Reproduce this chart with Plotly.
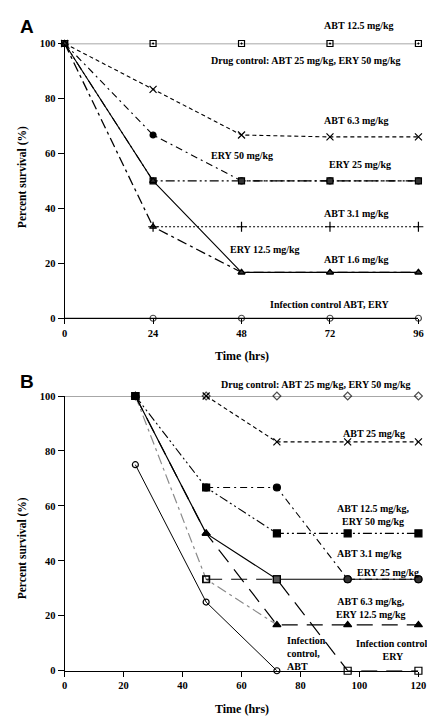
import plotly.graph_objects as go

W, H = 435, 716

# ---------------- Panel A data ----------------
a_time = [0, 24, 48, 72, 96]
a_drug_ctrl = [100, 100, 100, 100, 100]
a_abt_6_3 = [100, 83.3, 66.7, 66, 66]
a_ery_50 = [100, 66.7, 50, 50, 50]
a_ery_25 = [100, 50, 50, 50, 50]
a_abt_1_6 = [100, 50, 16.7, 16.7, 16.7]
a_ery_12_5 = [100, 33.3, 16.7, 16.7, 16.7]
a_abt_3_1_time = [24, 48, 72, 96]
a_abt_3_1 = [33.3, 33.3, 33.3, 33.3]
a_inf_ctrl = [0, 0, 0, 0, 0]
a_xticks = [0, 24, 48, 72, 96]

# ---------------- Panel B data ----------------
b_time_ctrl = [0, 24, 48, 72, 96, 120]
b_drug_ctrl = [100, 100, 100, 100, 100, 100]
b_abt_25_time = [48, 72, 96, 120]
b_abt_25 = [100, 83.3, 83.3, 83.3]
b_time = [24, 48, 72, 96, 120]
b_abt_12_5 = [100, 66.7, 50, 50, 50]
b_ery_50_time = [48, 72, 96, 120]
b_ery_50 = [66.7, 66.7, 33.3, 33.3]
b_abt_3_1 = [100, 50, 33.3, 33.3, 33.3]
b_abt_6_3 = [100, 50, 16.7, 16.7, 16.7]
b_ery_12_5_time = [24, 48, 72]
b_ery_12_5 = [100, 33.3, 16.7]
b_inf_ery_time = [48, 72, 96, 120]
b_inf_ery = [33.3, 33.3, 0, 0]
b_inf_abt_time = [24, 48, 72]
b_inf_abt = [75, 25, 0]
b_xticks = [0, 20, 40, 60, 80, 100, 120]

yticks = [0, 20, 40, 60, 80, 100]

SERIF = "Liberation Serif"
GRAY = "#8a8a8a"

fig = go.Figure()


def add(x, y, xa, ya, color="black", dash="solid", width=1.1, symbol="circle",
        msize=6, mcolor="black", mline="black"):
    fig.add_trace(go.Scatter(
        x=x, y=y, xaxis=xa, yaxis=ya, mode="lines+markers",
        line=dict(color=color, dash=dash, width=width),
        marker=dict(symbol=symbol, size=msize, color=mcolor,
                    line=dict(color=mline, width=1.2)),
        cliponaxis=False, showlegend=False, hoverinfo="skip"))


# Panel A traces
add(a_time, a_drug_ctrl, "x", "y", color=GRAY, width=1.5, symbol="square-open-dot", msize=6)
add(a_time, a_inf_ctrl, "x", "y", color=GRAY, width=1.5, symbol="circle-open",
    msize=[0, 6, 6, 6, 6])
add(a_time, a_abt_6_3, "x", "y", dash="4px,3px", symbol="x-thin-open", msize=7)
add(a_time, a_ery_50, "x", "y", dash="7px,4px,2px,4px", symbol="circle", msize=6)
add(a_time, a_ery_25, "x", "y", dash="9px,3px,2px,3px,2px,3px", symbol="square", msize=6,
    mcolor="#333")
add(a_time, a_ery_12_5, "x", "y", dash="10px,4px,3px,4px", width=1.3,
    symbol="triangle-up", msize=6, mcolor="#555")
add(a_time, a_abt_1_6, "x", "y", symbol="triangle-up", msize=6, mcolor="#333")
add(a_abt_3_1_time, a_abt_3_1, "x", "y", dash="2px,2px", symbol="cross-thin-open", msize=7)

# Panel B traces
add(b_time_ctrl, b_drug_ctrl, "x2", "y2", color=GRAY, width=1.5, symbol="diamond-open",
    msize=[0, 6, 6, 6, 6, 6])
add(b_ery_12_5_time, b_ery_12_5, "x2", "y2", color=GRAY, dash="10px,4px,3px,4px", width=1.2,
    symbol=["square", "square-open", "triangle-up"], msize=6, mline=GRAY)
add(b_inf_abt_time, b_inf_abt, "x2", "y2", width=1, symbol="circle-open", msize=6)
add(b_abt_25_time, b_abt_25, "x2", "y2", dash="4px,3px", symbol="x-thin-open", msize=7)
add(b_time, b_abt_12_5, "x2", "y2", dash="9px,3px,2px,3px,2px,3px", symbol="square", msize=7)
add(b_ery_50_time, b_ery_50, "x2", "y2", dash="7px,4px,2px,4px", symbol="circle", msize=7)
add(b_time, b_abt_6_3, "x2", "y2", dash="16px,9px", width=1.2, symbol="triangle-up", msize=7)
add(b_time, b_abt_3_1, "x2", "y2", width=1.2,
    symbol=["square", "triangle-up", "square", "circle", "circle"], msize=7,
    mcolor=["black", "black", "#555", "#333", "#333"])
add(b_inf_ery_time, b_inf_ery, "x2", "y2", dash="16px,9px", width=1.2,
    symbol="square-open", msize=7)


def px_x(p):
    return p / W


def px_y(p):
    return 1 - p / H


tickfont = dict(family=SERIF, size=10.5, color="black", weight="bold")
common_x = dict(showgrid=False, zeroline=False, showline=True, linecolor="black", linewidth=1.2,
                ticks="outside", ticklen=5, tickcolor="black", tickfont=tickfont,
                fixedrange=True)
common_y = dict(showgrid=False, zeroline=False, showline=True, linecolor="black", linewidth=1.2,
                ticks="outside", ticklen=6, tickcolor="black", tickfont=tickfont,
                range=[0, 100], tickvals=yticks, fixedrange=True)

xdom = [px_x(55), px_x(418)]
fig.update_layout(
    width=W, height=H, margin=dict(l=0, r=0, t=0, b=0),
    paper_bgcolor="white", plot_bgcolor="white",
    xaxis=dict(domain=xdom, range=[0, 96], tickvals=a_xticks, anchor="y", **common_x),
    yaxis=dict(domain=[px_y(310), px_y(31)], anchor="x", **common_y),
    xaxis2=dict(domain=xdom, range=[0, 120], tickvals=b_xticks, anchor="y2", **common_x),
    yaxis2=dict(domain=[px_y(668), px_y(389)], anchor="x2", **common_y),
)


def note(text, x, y, align="center", xanchor="center", size=10):
    fig.add_annotation(text=text, x=px_x(x), y=px_y(y), xref="paper", yref="paper",
                       showarrow=False, xanchor=xanchor, yanchor="middle", align=align,
                       font=dict(family=SERIF, size=size, color="black", weight="bold"))


# Panel letters
for letter, yy in (("A", 14), ("B", 374)):
    fig.add_annotation(text=letter, x=px_x(7), y=px_y(yy), xref="paper", yref="paper",
                       showarrow=False, xanchor="left", yanchor="middle",
                       font=dict(family="Liberation Sans", size=19, color="black",
                                 weight="bold"))

# Axis titles
for yc in (167, 544):
    fig.add_annotation(text="Percent survival (%)", x=px_x(12), y=px_y(yc), xref="paper",
                       yref="paper", showarrow=False, textangle=-90, xanchor="center",
                       yanchor="middle",
                       font=dict(family=SERIF, size=11.5, color="black", weight="bold"))
note("Time (hrs)", 237, 348, size=12)
note("Time (hrs)", 237, 707, size=12)

# Panel A labels
note("ABT 12.5 mg/kg", 357, 13)
note("Drug control: ABT 25 mg/kg, ERY 50 mg/kg", 302, 48)
note("ABT 6.3 mg/kg", 354, 109)
note("ERY 50 mg/kg", 237, 145)
note("ERY 25 mg/kg", 358, 154)
note("ABT 3.1 mg/kg", 354, 204)
note("ERY 12.5 mg/kg", 261, 240)
note("ABT 1.6 mg/kg", 354, 250)
note("Infection control ABT, ERY", 327, 296)

# Panel B labels
note("Drug control: ABT 25 mg/kg, ERY 50 mg/kg", 312, 377)
note("ABT 25 mg/kg", 372, 427)
note("ABT 12.5 mg/kg,<br>ERY 50 mg/kg", 372, 510)
note("ABT 3.1 mg/kg", 368, 549)
note("ERY 25 mg/kg", 387, 568)
note("ABT 6.3 mg/kg,<br>ERY 12.5 mg/kg", 369, 604)
note("Infection<br>control,<br>ABT", 281, 651, align="left", xanchor="left")
note("Infection control,<br>ERY", 392, 647)

fig.write_html("out.html")
